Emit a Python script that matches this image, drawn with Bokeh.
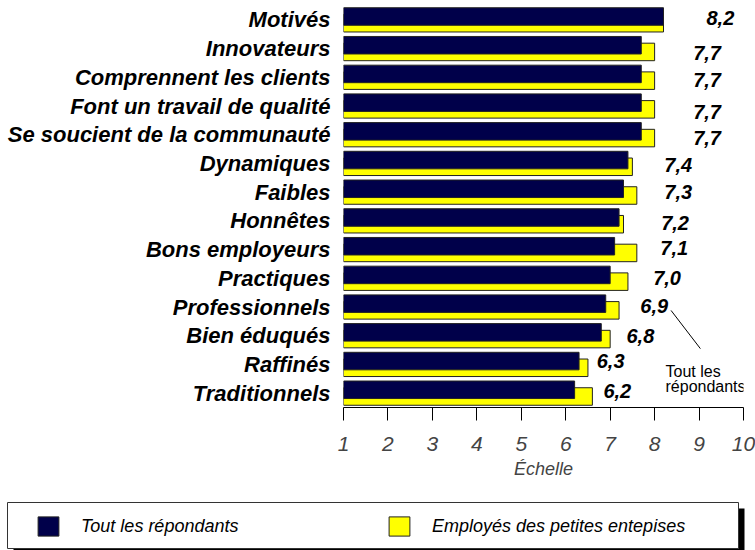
from bokeh.plotting import figure
from bokeh.layouts import column
from bokeh.models import ColumnDataSource, FactorRange, Range1d, FixedTicker, Legend, LegendItem, Label
from bokeh.transform import dodge
from bokeh.core.properties import value
from bokeh.embed import file_html
from bokeh.resources import INLINE

# ---------------- data ----------------
categories = ["Motivés", "Innovateurs", "Comprennent les clients",
              "Font un travail de qualité", "Se soucient de la communauté",
              "Dynamiques", "Faibles", "Honnêtes", "Bons employeurs",
              "Practiques", "Professionnels", "Bien éduqués", "Raffinés",
              "Traditionnels"]
tous = [8.2, 7.7, 7.7, 7.7, 7.7, 7.4, 7.3, 7.2, 7.1, 7.0, 6.9, 6.8, 6.3, 6.2]
petites = [8.2, 8.0, 8.0, 8.0, 8.0, 7.5, 7.6, 7.3, 7.6, 7.4, 7.2, 7.0, 6.5, 6.6]
series_names = ["Tout les répondants", "Employés des petites entepises"]
x_ticks = [1, 2, 3, 4, 5, 6, 7, 8, 9, 10]
axis_title = "Échelle"
note_lines = ["Tout les", "répondants"]

# ---------------- layout-only offsets (not data) ----------------
label_dx = [1.28, 1.48, 1.48, 1.48, 1.48, 1.13, 1.23, 1.26, 1.34, 1.28, 1.09, 0.88, 0.71, 0.96]
label_dy = [-2, 4, 3, 6, 3, 2, 0, 2, -2, 0, -1, 0, -3, -2]

NAVY = "#00004a"
YELLOW = "#ffff00"
EDGE = "#222222"
FONT = "Liberation Sans"

value_labels = [f"{v:.1f}".replace(".", ",") for v in tous]
src = ColumnDataSource(dict(
    cat=categories, tous=tous, petites=petites, lbl=value_labels,
    lx=[v + d for v, d in zip(tous, label_dx)], dy=label_dy,
))

p = figure(width=755, height=495, output_backend="svg", toolbar_location=None,
           y_range=FactorRange(factors=categories[::-1]),
           x_range=Range1d(1, 10),
           min_border_left=343, min_border_right=12, min_border_top=5, min_border_bottom=88)
p.outline_line_color = None
p.xgrid.visible = False
p.ygrid.visible = False
p.frame_align = False

r_yel = p.hbar(y=dodge("cat", -0.117, range=p.y_range), left=1, right="petites", height=0.61,
               source=src, fill_color=YELLOW, line_color=EDGE, line_width=1)
r_nav = p.hbar(y=dodge("cat", 0.117, range=p.y_range), left=1, right="tous", height=0.61,
               source=src, fill_color=NAVY, line_color=EDGE, line_width=1)

p.text(x="lx", y="cat", text="lbl", y_offset="dy", source=src,
       text_font=value(FONT), text_font_style="bold italic", text_font_size="20px",
       text_align="center", text_baseline="middle", text_color="black")

# leader line from the "6,9" label to the note
i_lead = categories.index("Professionnels")
lx0 = tous[i_lead] + label_dx[i_lead] + 0.38
p.segment(x0=[lx0], y0=[3.38], x1=[lx0 + 0.66], y1=[2.05], line_color="black", line_width=1)
p.add_layout(Label(x=8.245, y=1.25, text=note_lines[0], text_font=FONT, text_font_size="16px",
                   text_baseline="middle", text_align="left", text_color="black"))
p.add_layout(Label(x=8.245, y=0.72, text=note_lines[1], text_font=FONT, text_font_size="16px",
                   text_baseline="middle", text_align="left", text_color="black"))

# axes
xa = p.xaxis[0]
xa.ticker = FixedTicker(ticks=x_ticks)
xa.axis_label = axis_title
xa.axis_label_text_font = FONT
xa.axis_label_text_font_style = "italic"
xa.axis_label_text_font_size = "18px"
xa.axis_label_standoff = 5
xa.major_label_text_font = FONT
xa.major_label_text_font_style = "italic"
xa.major_label_text_font_size = "21px"
xa.major_label_standoff = 16
xa.major_tick_out = 13
xa.major_tick_in = 0
xa.minor_tick_out = 0
xa.minor_tick_in = 0
xa.axis_line_color = "black"
xa.major_tick_line_color = "black"

ya = p.yaxis[0]
ya.axis_line_color = None
ya.major_tick_line_color = None
ya.minor_tick_line_color = None
ya.major_label_standoff = 7
ya.major_label_text_font = FONT
ya.major_label_text_font_style = "bold italic"
ya.major_label_text_font_size = "22px"
ya.major_label_text_color = "black"

# ---------------- legend strip ----------------
q = figure(width=755, height=55, output_backend="svg", toolbar_location=None,
           x_range=Range1d(0, 755), y_range=Range1d(55, 0),
           min_border=0, x_axis_location=None, y_axis_location=None)
q.frame_align = False
q.outline_line_color = None
q.xgrid.visible = False
q.ygrid.visible = False
# legend frame with drop shadow
q.quad(left=[13], right=[744], top=[13], bottom=[60], fill_color="black", line_color=None)
q.quad(left=[7], right=[738], top=[7], bottom=[53], fill_color="white",
       line_color="#333333", line_width=1)
# off-range proxies that only supply the legend swatches
l_nav = q.hbar(y=[5000], left=[5000], right=[5001], height=1, fill_color=NAVY, line_color=EDGE)
l_yel = q.hbar(y=[5000], left=[5000], right=[5001], height=1, fill_color=YELLOW, line_color=EDGE)

legend = Legend(items=[LegendItem(label=series_names[0], renderers=[l_nav]),
                       LegendItem(label=series_names[1], renderers=[l_yel])],
                orientation="horizontal", location=(35, 12), margin=0,
                padding=0, spacing=9, glyph_width=26, glyph_height=24,
                label_standoff=20, label_width=296,
                border_line_color=None, background_fill_alpha=0,
                label_text_font=FONT, label_text_font_style="italic",
                label_text_font_size="18px", label_text_color="black")
q.add_layout(legend)

open("out.html", "w").write(file_html(column(p, q, spacing=0), INLINE))
